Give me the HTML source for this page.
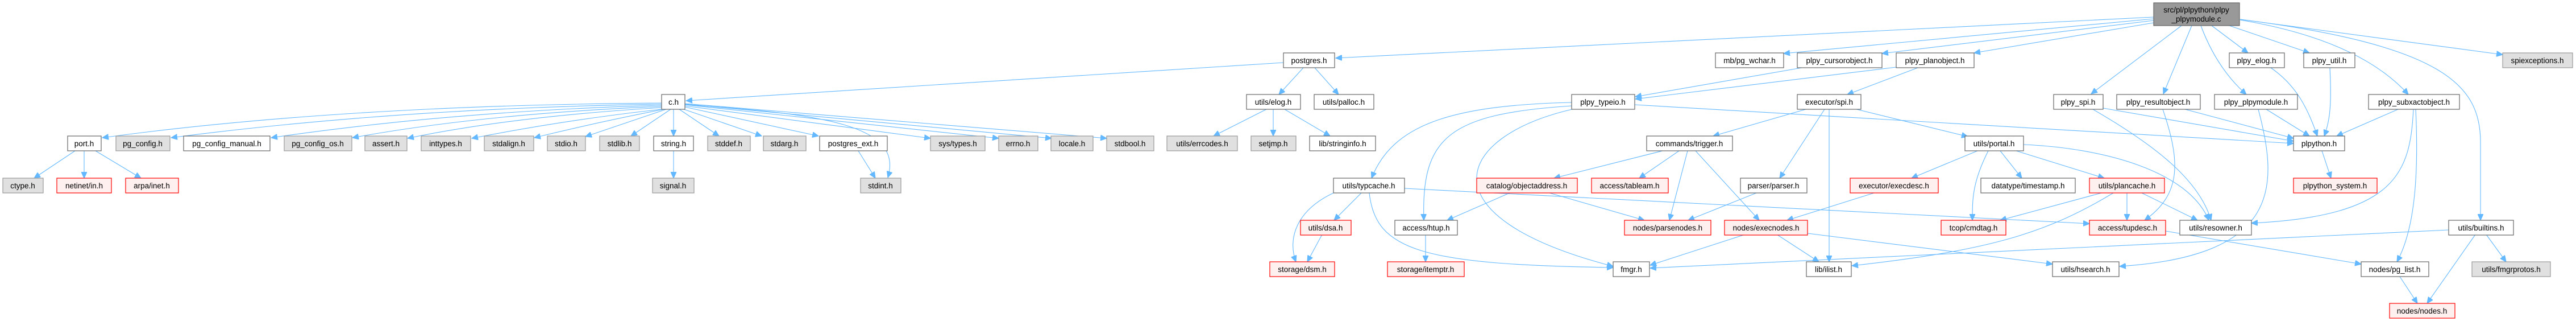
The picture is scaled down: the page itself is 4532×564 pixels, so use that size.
<!DOCTYPE html>
<html><head><meta charset="utf-8"><style>
html,body{margin:0;padding:0;background:#fff;}
svg{display:block;}
text{font-family:"Liberation Sans",sans-serif;font-size:13.5px;fill:#000;text-anchor:middle;}
.w{fill:#fff;stroke:#666;stroke-width:1.2;}
.g{fill:#e0e0e0;stroke:#999;stroke-width:1.2;}
.r{fill:#fff0f0;stroke:#f00;stroke-width:1.2;}
.root{fill:#999;stroke:#666;stroke-width:1.2;}
path{fill:none;stroke:#63b8ff;stroke-width:1.1;marker-end:url(#a);}
</style></head><body>
<svg width="4532" height="564" viewBox="0 0 4532 564" xmlns="http://www.w3.org/2000/svg">
<defs><marker id="a" markerUnits="userSpaceOnUse" markerWidth="12" markerHeight="10" refX="11" refY="5" orient="auto"><path d="M0,0 L11,5 L0,10 z" style="fill:#63b8ff;stroke:#63b8ff;marker-end:none"/></marker></defs>
<g>
<!-- c.h edges -->
<path d="M1164,181 Q600,185 180,242"/>
<path d="M1164,183 Q700,190 301,242"/>
<path d="M1164,185 Q800,195 477,242"/>
<path d="M1164,187 Q850,200 620,242"/>
<path d="M1164,189 Q900,205 717,243"/>
<path d="M1164,192 Q1000,210 830,243"/>
<path d="M1168,192 Q1050,215 940,242"/>
<path d="M1172,192 L1030,240"/>
<path d="M1180,192 L1110,239"/>
<path d="M1185,192 L1185,239"/>
<path d="M1195,192 L1265,239"/>
<path d="M1203,192 L1340,239"/>
<path d="M1205,188 L1440,239"/>
<path d="M1205,184 C1450,200 1590,220 1562,312"/>
<path d="M1205,186 L1637,243"/>
<path d="M1205,184 L1757,243"/>
<path d="M1205,183 L1850,243"/>
<path d="M1205,182 L1947,243"/>
<path d="M132,265 L60,313"/>
<path d="M148,265 L148,313"/>
<path d="M168,265 L248,313"/>
<path d="M1185,265 L1185,313"/>
<path d="M1510,265 L1540,313"/>
<path d="M2258,110 L1207,177"/>
<path d="M2293,119 L2250,166"/>
<path d="M2313,119 L2355,166"/>
<path d="M2228,192 L2135,239"/>
<path d="M2240,192 L2240,239"/>
<path d="M2260,192 L2340,239"/>
<!-- root edges -->
<path d="M3789,30 L2350,102"/>
<path d="M3789,33 L3138,94"/>
<path d="M3789,36 L3311,94"/>
<path d="M3789,40 L3473,93"/>
<path d="M3838,45 L3679,165"/>
<path d="M3856,45 L3806,165"/>
<path d="M3872,45 Q3900,120 3952,166"/>
<path d="M3891,45 L3955,93"/>
<path d="M3922,45 L4063,93"/>
<path d="M3941,35 Q4150,70 4237,166"/>
<path d="M3941,34 C4300,80 4364,150 4364,250 L4364,387"/>
<path d="M3941,34 L4403,96"/>
<!-- typeio etc -->
<path d="M3170,119 L2877,170"/>
<path d="M3336,118 L2877,174"/>
<path d="M3374,119 L3250,166"/>
<path d="M2876,184 L4035,252"/>
<path d="M2765,180 C2550,185 2450,220 2413,313"/>
<path d="M2765,186 C2550,200 2500,240 2505,387"/>
<path d="M2766,192 C2560,240 2500,380 2838,468"/>
<path d="M3177,192 L3014,239"/>
<path d="M3210,192 L3131,313"/>
<path d="M3218,192 L3218,460"/>
<path d="M3266,192 L3462,240"/>
<path d="M2925,265 L2734,313"/>
<path d="M2954,265 L2884,313"/>
<path d="M2969,265 L2937,387"/>
<path d="M2983,265 L3095,387"/>
<path d="M2346,339 C2280,370 2265,420 2280,460"/>
<path d="M2395,339 L2347,387"/>
<path d="M2409,339 C2420,440 2500,465 2838,470"/>
<path d="M2471,331 L3676,393"/>
<path d="M2326,412 L2300,460"/>
<path d="M2656,339 L2546,387"/>
<path d="M2726,339 L2893,387"/>
<path d="M2508,412 L2508,460"/>
<path d="M3067,413 L2903,466"/>
<path d="M4308,404 L2903,471"/>
<path d="M3090,339 L2970,387"/>
<path d="M3297,339 L3144,387"/>
<path d="M3479,265 L3363,313"/>
<path d="M3498,265 C3470,320 3470,350 3470,387"/>
<path d="M3519,265 L3557,313"/>
<path d="M3547,265 L3702,313"/>
<path d="M3560,254 C3700,260 3850,300 3886,387"/>
<path d="M3697,339 L3519,387"/>
<path d="M3742,339 L3742,387"/>
<path d="M3718,339 C3600,410 3500,440 3258,467"/>
<path d="M3768,339 L3866,387"/>
<path d="M3126,412 L3200,460"/>
<path d="M3180,410 L3611,464"/>
<path d="M3973,192 C4010,330 4010,450 3729,468"/>
<path d="M3987,192 L4063,239"/>
<path d="M3844,192 L4035,243"/>
<path d="M3805,192 C3835,280 3840,340 3773,387"/>
<path d="M3700,190 L4035,248"/>
<path d="M3682,192 C3800,260 3870,320 3890,387"/>
<path d="M3995,119 C4040,150 4060,190 4077,239"/>
<path d="M4099,119 C4102,180 4100,210 4089,239"/>
<path d="M4219,192 L4111,239"/>
<path d="M4246,192 C4240,300 4220,380 3961,392"/>
<path d="M4250,192 C4255,300 4250,400 4217,460"/>
<path d="M4085,265 L4101,313"/>
<path d="M3810,406 L4154,464"/>
<path d="M4355,412 L4270,533"/>
<path d="M4374,412 L4409,460"/>
<path d="M4222,486 L4253,533"/>
</g>
<g>
<rect class="root" x="3789" y="5" width="151" height="40"/><text x="3864" y="22">src/pl/plpython/plpy</text><text x="3864" y="38">_plpymodule.c</text>
<!-- row1 y=93 -->
<rect class="w" x="2258" y="93" width="90" height="26"/><text x="2303" y="111">postgres.h</text>
<rect class="w" x="3018" y="93" width="120" height="26"/><text x="3078" y="111">mb/pg_wchar.h</text>
<rect class="w" x="3162" y="93" width="149" height="26"/><text x="3236" y="111">plpy_cursorobject.h</text>
<rect class="w" x="3336" y="93" width="137" height="26"/><text x="3404" y="111">plpy_planobject.h</text>
<rect class="w" x="3922" y="93" width="97" height="26"/><text x="3970" y="111">plpy_elog.h</text>
<rect class="w" x="4053" y="93" width="90" height="26"/><text x="4098" y="111">plpy_util.h</text>
<rect class="g" x="4403" y="93" width="123" height="26"/><text x="4464" y="111">spiexceptions.h</text>
<!-- row2 y=166 -->
<rect class="w" x="1164" y="166" width="41" height="26"/><text x="1185" y="184">c.h</text>
<rect class="w" x="2193" y="166" width="95" height="26"/><text x="2240" y="184">utils/elog.h</text>
<rect class="w" x="2312" y="166" width="105" height="26"/><text x="2364" y="184">utils/palloc.h</text>
<rect class="w" x="2765" y="166" width="111" height="26"/><text x="2820" y="184">plpy_typeio.h</text>
<rect class="w" x="3162" y="166" width="112" height="26"/><text x="3218" y="184">executor/spi.h</text>
<rect class="w" x="3613" y="166" width="87" height="26"/><text x="3656" y="184">plpy_spi.h</text>
<rect class="w" x="3724" y="166" width="147" height="26"/><text x="3797" y="184">plpy_resultobject.h</text>
<rect class="w" x="3896" y="166" width="146" height="26"/><text x="3969" y="184">plpy_plpymodule.h</text>
<rect class="w" x="4167" y="166" width="160" height="26"/><text x="4247" y="184">plpy_subxactobject.h</text>
<!-- row3 y=239 -->
<rect class="w" x="119" y="239" width="59" height="26"/><text x="148" y="257">port.h</text>
<rect class="g" x="204" y="239" width="95" height="26"/><text x="251" y="257">pg_config.h</text>
<rect class="w" x="323" y="239" width="152" height="26"/><text x="399" y="257">pg_config_manual.h</text>
<rect class="g" x="500" y="239" width="119" height="26"/><text x="559" y="257">pg_config_os.h</text>
<rect class="g" x="642" y="239" width="74" height="26"/><text x="679" y="257">assert.h</text>
<rect class="g" x="741" y="239" width="87" height="26"/><text x="784" y="257">inttypes.h</text>
<rect class="g" x="852" y="239" width="87" height="26"/><text x="895" y="257">stdalign.h</text>
<rect class="g" x="963" y="239" width="67" height="26"/><text x="996" y="257">stdio.h</text>
<rect class="g" x="1055" y="239" width="70" height="26"/><text x="1090" y="257">stdlib.h</text>
<rect class="w" x="1150" y="239" width="70" height="26"/><text x="1185" y="257">string.h</text>
<rect class="g" x="1245" y="239" width="75" height="26"/><text x="1282" y="257">stddef.h</text>
<rect class="g" x="1343" y="239" width="75" height="26"/><text x="1380" y="257">stdarg.h</text>
<rect class="w" x="1442" y="239" width="119" height="26"/><text x="1501" y="257">postgres_ext.h</text>
<rect class="g" x="1637" y="239" width="96" height="26"/><text x="1685" y="257">sys/types.h</text>
<rect class="g" x="1757" y="239" width="69" height="26"/><text x="1791" y="257">errno.h</text>
<rect class="g" x="1849" y="239" width="74" height="26"/><text x="1886" y="257">locale.h</text>
<rect class="g" x="1947" y="239" width="83" height="26"/><text x="1988" y="257">stdbool.h</text>
<rect class="g" x="2053" y="239" width="124" height="26"/><text x="2115" y="257">utils/errcodes.h</text>
<rect class="g" x="2201" y="239" width="79" height="26"/><text x="2240" y="257">setjmp.h</text>
<rect class="w" x="2304" y="239" width="116" height="26"/><text x="2362" y="257">lib/stringinfo.h</text>
<rect class="w" x="2897" y="239" width="151" height="26"/><text x="2972" y="257">commands/trigger.h</text>
<rect class="w" x="3457" y="239" width="103" height="26"/><text x="3508" y="257">utils/portal.h</text>
<rect class="w" x="4035" y="239" width="90" height="26"/><text x="4080" y="257">plpython.h</text>
<!-- row4 y=313 -->
<rect class="g" x="5" y="313" width="71" height="26"/><text x="40" y="331">ctype.h</text>
<rect class="r" x="100" y="313" width="96" height="26"/><text x="148" y="331">netinet/in.h</text>
<rect class="r" x="221" y="313" width="93" height="26"/><text x="267" y="331">arpa/inet.h</text>
<rect class="g" x="1148" y="313" width="73" height="26"/><text x="1184" y="331">signal.h</text>
<rect class="g" x="1514" y="313" width="71" height="26"/><text x="1549" y="331">stdint.h</text>
<rect class="w" x="2346" y="313" width="125" height="26"/><text x="2408" y="331">utils/typcache.h</text>
<rect class="r" x="2598" y="313" width="177" height="26"/><text x="2686" y="331">catalog/objectaddress.h</text>
<rect class="r" x="2800" y="313" width="135" height="26"/><text x="2867" y="331">access/tableam.h</text>
<rect class="w" x="3062" y="313" width="117" height="26"/><text x="3120" y="331">parser/parser.h</text>
<rect class="r" x="3255" y="313" width="155" height="26"/><text x="3332" y="331">executor/execdesc.h</text>
<rect class="w" x="3485" y="313" width="166" height="26"/><text x="3568" y="331">datatype/timestamp.h</text>
<rect class="r" x="3676" y="313" width="132" height="26"/><text x="3742" y="331">utils/plancache.h</text>
<rect class="r" x="4035" y="313" width="147" height="26"/><text x="4108" y="331">plpython_system.h</text>
<!-- row5 y=387 -->
<rect class="r" x="2288" y="387" width="89" height="26"/><text x="2332" y="405">utils/dsa.h</text>
<rect class="w" x="2454" y="387" width="110" height="26"/><text x="2509" y="405">access/htup.h</text>
<rect class="r" x="2858" y="387" width="152" height="26"/><text x="2934" y="405">nodes/parsenodes.h</text>
<rect class="r" x="3034" y="387" width="146" height="26"/><text x="3107" y="405">nodes/execnodes.h</text>
<rect class="r" x="3415" y="387" width="114" height="26"/><text x="3472" y="405">tcop/cmdtag.h</text>
<rect class="r" x="3676" y="387" width="134" height="26"/><text x="3743" y="405">access/tupdesc.h</text>
<rect class="w" x="3835" y="387" width="126" height="26"/><text x="3898" y="405">utils/resowner.h</text>
<rect class="w" x="4308" y="387" width="114" height="26"/><text x="4365" y="405">utils/builtins.h</text>
<!-- row6 y=460 -->
<rect class="r" x="2234" y="460" width="114" height="26"/><text x="2291" y="478">storage/dsm.h</text>
<rect class="r" x="2441" y="460" width="135" height="26"/><text x="2508" y="478">storage/itemptr.h</text>
<rect class="w" x="2838" y="460" width="64" height="26"/><text x="2870" y="478">fmgr.h</text>
<rect class="w" x="3178" y="460" width="79" height="26"/><text x="3217" y="478">lib/ilist.h</text>
<rect class="w" x="3611" y="460" width="117" height="26"/><text x="3669" y="478">utils/hsearch.h</text>
<rect class="w" x="4154" y="460" width="119" height="26"/><text x="4213" y="478">nodes/pg_list.h</text>
<rect class="g" x="4349" y="460" width="138" height="26"/><text x="4418" y="478">utils/fmgrprotos.h</text>
<!-- row7 -->
<rect class="r" x="4204" y="533" width="115" height="26"/><text x="4261" y="551">nodes/nodes.h</text>
</g>
</svg>
</body></html>
